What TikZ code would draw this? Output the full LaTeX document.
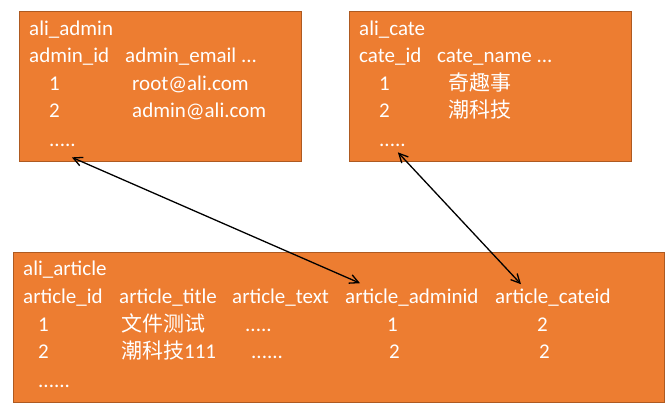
\documentclass[tikz,border=0pt]{standalone}
\usepackage{fontspec}
\setmainfont{Carlito}
\newfontfamily\cjk{Noto Sans CJK SC}
\usetikzlibrary{arrows.meta, positioning}
\definecolor{taborange}{HTML}{ED7D31}
\definecolor{tabedge}{HTML}{AE5A21}

\begin{document}
\begin{tikzpicture}[x=1pt, y=-1pt, font=\fontsize{21}{25}\selectfont, >={Straight Barb[length=9pt, width=9pt]},
    tbl/.style={draw=tabedge, fill=taborange, line width=1pt, anchor=north west, inner sep=0pt},
    cell/.style={text=white, inner sep=0pt, anchor=base west}]
  \useasboundingbox (0,0) rectangle (672,414);
  % table boxes
  \node[tbl, minimum width=282, minimum height=150] (admin) at (19,11) {};
  \node[tbl, minimum width=282, minimum height=150] (cate) at (349,11) {};
  \node[tbl, minimum width=651, minimum height=150] (article) at (13,252) {};

  % ali_admin
  \node[cell] (admtitle) at (29,36) {ali\_admin};
  \node[cell] (admhid) at (29,63) {admin\_id};
  \node[cell] (admhmail) at (125,63) {admin\_email ...};
  \foreach \y/\a/\b [count=\i] in {91/1/root@ali.com, 118/2/admin@ali.com}{
    \node[cell] (admid-\i) at (49,\y) {\a};
    \node[cell] (admmail-\i) at (132,\y) {\b};
  }
  \node[cell] (admdots) at (49,147) {.....};

  % ali_cate
  \node[cell] (catetitle) at (359,36) {ali\_cate};
  \node[cell] (catehid) at (359,63) {cate\_id};
  \node[cell] (catehname) at (437,63) {cate\_name ...};
  \foreach \y/\a/\b [count=\i] in {91/1/奇趣事, 118/2/潮科技}{
    \node[cell] (cateid-\i) at (379,\y) {\a};
    \node[cell] (catename-\i) at (448,\y) {\cjk \b};
  }
  \node[cell] (catedots) at (379,147) {.....};

  % ali_article
  \node[cell] (arttitle) at (23,276) {ali\_article};
  \node[cell] (arthid) at (23,303) {article\_id};
  \node[cell] (arthtitle) at (119,303) {article\_title};
  \node[cell] (arthtext) at (232,303) {article\_text};
  \node[cell] (arthadmin) at (345,303) {article\_adminid};
  \node[cell] (arthcate) at (495,303) {article\_cateid};
  \node[cell] (artid-1) at (38,331) {1};
  \node[cell] (arttitle-1) at (121,331) {\cjk 文件测试};
  \node[cell] (arttext-1) at (245,331) {.....};
  \node[cell] (artadmin-1) at (387,331) {1};
  \node[cell] (artcate-1) at (537,331) {2};
  \node[cell] (artid-2) at (38,358) {2};
  \node[cell] (arttitle-2) at (121,358) {{\cjk 潮科技}111};
  \node[cell] (arttext-2) at (251,358) {......};
  \node[cell] (artadmin-2) at (389,358) {2};
  \node[cell] (artcate-2) at (539,358) {2};
  \node[cell] (artdots) at (38,387) {......};

  % links
  \draw[<->, line width=1.3pt] ([shift={(-4,10)}]admdots.south east) -- ([shift={(15,-5)}]arthadmin.north west);
  \draw[<->, line width=1.3pt] ([shift={(-8,5)}]catedots.south east) -- ([shift={(26,-4)}]arthcate.north west);
\end{tikzpicture}
\end{document}
